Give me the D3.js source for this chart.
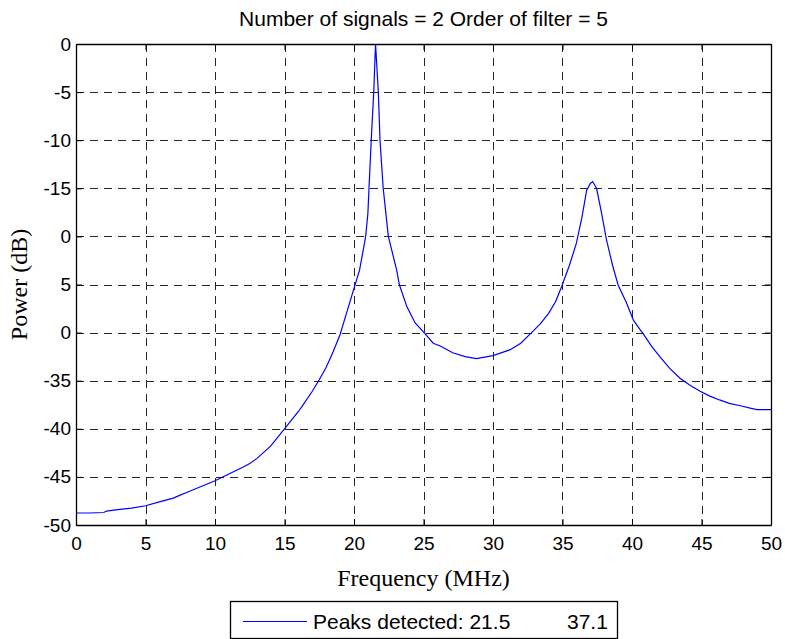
<!DOCTYPE html>
<html>
<head>
<meta charset="utf-8">
<script src="https://cdn.jsdelivr.net/npm/d3@7"></script>
<style>
  html, body { margin: 0; padding: 0; background: #fff; }
  svg { display: block; }
</style>
</head>
<body>
<svg id="chart" width="785" height="639"></svg>
<script>
// ---- data ----
const titleText = "Number of signals = 2 Order of filter = 5";
const xLabel = "Frequency (MHz)";
const yLabel = "Power (dB)";
const legendLabel = "Peaks detected: 21.5";
const legendPeaks = ["37.1"];

const xTicks = [0, 5, 10, 15, 20, 25, 30, 35, 40, 45, 50];
const yTicks = [0, -5, -10, -15, -20, -25, -30, -35, -40, -45, -50];
const yTickLabels = ["0", "-5", "-10", "-15", "0", "5", "0", "-35", "-40", "-45", "-50"];

const freq = [0, 1, 2, 2.2, 3, 4, 5, 6, 7, 7.5, 8, 9, 10, 11, 12, 12.5, 13, 14, 15, 16, 16.25, 17, 17.5,
  18, 18.5, 19, 19.5, 20, 20.4, 20.84, 21.0, 21.08, 21.24, 21.42, 21.55, 21.75, 21.87, 22.1, 22.47,
  23.07, 23.26, 23.8, 24.4, 25.04, 25.7, 26.2, 27.1, 28.0, 28.8, 30, 31.2, 32.0, 32.7, 33.4, 34.0,
  34.5, 34.94, 35.5, 36.0, 36.4, 36.74, 37.0, 37.17, 37.45, 37.8, 38.17, 38.6, 39.0, 39.6, 40.1,
  40.58, 40.8, 41.4, 42.0, 42.7, 43.45, 44.2, 44.9, 45.6, 46.3, 47.0, 47.8, 48.5, 49.0, 50];
const power = [-48.75, -48.75, -48.7, -48.55, -48.4, -48.25, -48.0, -47.6, -47.2, -46.9, -46.6, -46.0,
  -45.4, -44.7, -44.0, -43.6, -43.1, -41.8, -40.0, -38.2, -37.7, -36.1, -34.9,
  -33.6, -32.0, -30.2, -27.8, -25.4, -23.5, -20.0, -17.6, -15.0, -10.0, -5.0, 0.0, -5.0, -10.0, -15.0, -20.0,
  -23.5, -25.0, -27.3, -29.0, -30.0, -31.1, -31.4, -32.1, -32.5, -32.7, -32.4, -31.8, -31.1, -30.1, -29.1, -28.0,
  -26.8, -25.2, -23.0, -20.7, -18.0, -15.2, -14.5, -14.3, -15.0, -17.5, -20.4, -23.0, -25.05, -26.9, -28.7,
  -29.7, -30.1, -31.4, -32.5, -33.7, -34.75, -35.5, -36.1, -36.6, -37.0, -37.35, -37.6, -37.85, -38.0, -38.0];

// ---- layout ----
const svg = d3.select("#chart");
const L = 76, R = 771, T = 44, B = 525;

const x = d3.scaleLinear().domain([0, 50]).range([L, R]);
const y = d3.scaleLinear().domain([-50, 0]).range([B, T]);

const sans = "Arial, 'Liberation Sans', Helvetica, sans-serif";
const serif = "'Times New Roman', 'Liberation Serif', serif";

// grid
const grid = svg.append("g").attr("stroke", "#000").attr("stroke-width", 1)
  .attr("stroke-dasharray", "8,6").attr("shape-rendering", "crispEdges").attr("opacity", 0.85);
grid.selectAll("line.v").data(xTicks.slice(1, -1)).join("line")
  .attr("x1", d => Math.round(x(d)) + 0.5).attr("x2", d => Math.round(x(d)) + 0.5)
  .attr("y1", T).attr("y2", B);
grid.selectAll("line.h").data(yTicks.slice(1, -1)).join("line")
  .attr("y1", d => Math.round(y(d)) + 0.5).attr("y2", d => Math.round(y(d)) + 0.5)
  .attr("x1", L).attr("x2", R);

// curve
svg.append("clipPath").attr("id", "plotclip").append("rect")
  .attr("x", L).attr("y", T).attr("width", R - L).attr("height", B - T);
svg.append("path")
  .datum(freq.map((f, i) => [f, power[i]]))
  .attr("clip-path", "url(#plotclip)")
  .attr("fill", "none").attr("stroke", "#0000ff").attr("stroke-width", 1.2)
  .attr("d", d3.line().x(d => x(d[0])).y(d => y(d[1])));

// axes
const xAxis = d3.axisBottom(x).tickValues(xTicks).tickSize(-6).tickPadding(12).tickSizeOuter(0);
const yAxis = d3.axisLeft(y).tickValues(yTicks).tickSize(-6).tickPadding(5).tickSizeOuter(0)
  .tickFormat((d, i) => yTickLabels[i]);
const xTop = d3.axisTop(x).tickValues(xTicks).tickSize(-6).tickFormat("").tickSizeOuter(0);
const yRight = d3.axisRight(y).tickValues(yTicks).tickSize(-6).tickFormat("").tickSizeOuter(0);

function styleAxis(g) {
  g.select(".domain").attr("stroke", "#000").attr("stroke-width", 1.3);
  g.selectAll(".tick line").attr("stroke", "#000").attr("stroke-width", 1);
  g.selectAll(".tick text").attr("fill", "#000").style("font-family", sans).style("font-size", "19px");
}
svg.append("g").attr("transform", `translate(0,${B})`).call(xAxis).call(styleAxis);
svg.append("g").attr("transform", `translate(${L},0)`).call(yAxis).call(styleAxis);
svg.append("g").attr("transform", `translate(0,${T})`).call(xTop).call(styleAxis);
svg.append("g").attr("transform", `translate(${R},0)`).call(yRight).call(styleAxis);

// title & labels
svg.append("text").attr("x", (L + R) / 2).attr("y", 26).attr("text-anchor", "middle")
  .style("font-family", sans).style("font-size", "21px").attr("fill", "#000").text(titleText);
svg.append("text").attr("x", (L + R) / 2).attr("y", 586).attr("text-anchor", "middle")
  .style("font-family", serif).style("font-size", "24px").attr("fill", "#000").text(xLabel);
svg.append("text").attr("transform", `translate(27,${(T + B) / 2}) rotate(-90)`).attr("text-anchor", "middle")
  .style("font-family", serif).style("font-size", "24px").attr("fill", "#000").text(yLabel);

// legend
const lg = svg.append("g");
lg.append("rect").attr("x", 230.5).attr("y", 601.5).attr("width", 387).attr("height", 37)
  .attr("fill", "#fff").attr("stroke", "#000").attr("stroke-width", 1.3);
lg.append("line").attr("x1", 243).attr("x2", 307).attr("y1", 621.5).attr("y2", 621.5)
  .attr("stroke", "#0000ff").attr("stroke-width", 1.2);
const lt = lg.append("text").attr("y", 628.5).style("font-family", sans).style("font-size", "21px").attr("fill", "#000");
lt.append("tspan").attr("x", 313).text(legendLabel);
lt.selectAll("tspan.pk").data(legendPeaks).join("tspan").attr("class", "pk").attr("x", 567).text(d => d);
</script>
</body>
</html>
